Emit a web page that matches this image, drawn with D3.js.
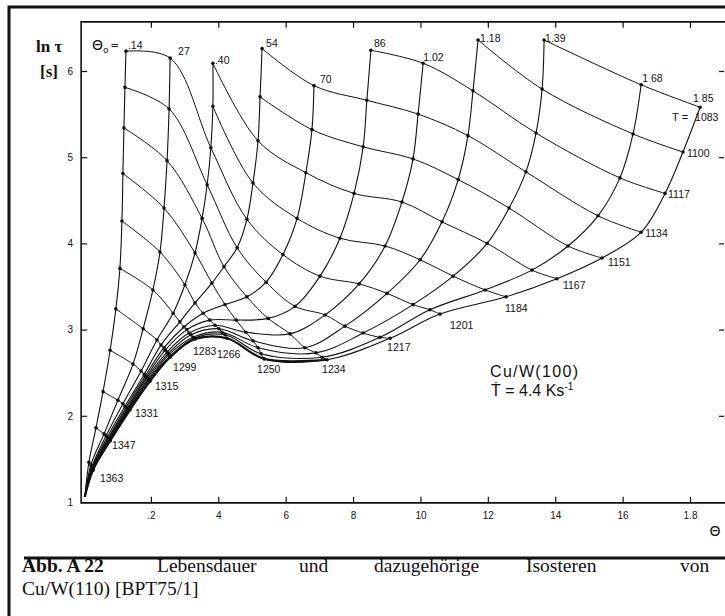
<!DOCTYPE html>
<html>
<head>
<meta charset="utf-8">
<script src="https://cdn.jsdelivr.net/npm/d3@7"></script>
<style>
  body { margin: 0; background: #fff; }
  svg { display: block; }
  text { fill: #111; }
</style>
</head>
<body>
<div id="chart"></div>
<script>
// initial coverages, label text as printed, and index of first isotherm on each curve
const theta0Labels = [".14", "27", ".40", "54", "70", "86", "1.02", "1.18", "1.39", "1 68", "1 85"];
const startIndex = [7, 7, 5, 3, 3, 2, 2, 1, 0, 0, 0];
const temps = [1083, 1100, 1117, 1134, 1151, 1167, 1184, 1201, 1217, 1234, 1250, 1266, 1283, 1299, 1315, 1331, 1347, 1363];

// [theta, ln tau] at each isotherm crossing, from the top of the curve down
const curve014 = [[0.126,6.23],[0.123,5.81],[0.120,5.34],[0.117,4.81],[0.114,4.26],[0.108,3.71],[0.096,3.24],[0.079,2.76],[0.058,2.28],[0.037,1.86],[0.016,1.46]];
const curve027 = [[0.257,6.15],[0.254,5.56],[0.248,4.96],[0.239,4.41],[0.227,3.90],[0.206,3.46],[0.177,3.01],[0.147,2.60],[0.102,2.18],[0.061,1.79],[0.022,1.43]];
const curve040 = [[0.384,6.09],[0.384,5.59],[0.378,5.11],[0.367,4.68],[0.352,4.29],[0.331,3.89],[0.301,3.52],[0.266,3.19],[0.218,2.88],[0.171,2.52],[0.117,2.14],[0.067,1.77],[0.025,1.41]];
const curve054 = [[0.530,6.26],[0.524,5.70],[0.518,5.19],[0.503,4.70],[0.485,4.28],[0.456,3.95],[0.417,3.73],[0.381,3.54],[0.331,3.31],[0.286,3.09],[0.230,2.82],[0.180,2.48],[0.123,2.11],[0.070,1.75],[0.025,1.39]];
const curve070 = [[0.684,5.83],[0.678,5.32],[0.660,4.82],[0.634,4.29],[0.592,3.87],[0.542,3.55],[0.485,3.38],[0.420,3.29],[0.355,3.19],[0.298,3.03],[0.239,2.79],[0.183,2.46],[0.126,2.10],[0.073,1.74],[0.025,1.39]];
const curve086 = [[0.853,6.24],[0.841,5.66],[0.830,5.12],[0.803,4.58],[0.761,4.06],[0.702,3.62],[0.628,3.27],[0.548,3.13],[0.453,3.11],[0.375,3.11],[0.307,3.00],[0.242,2.76],[0.186,2.45],[0.129,2.09],[0.073,1.73],[0.025,1.39]];
const curve102 = [[1.008,6.09],[0.993,5.50],[0.978,4.98],[0.945,4.48],[0.895,3.97],[0.818,3.53],[0.717,3.17],[0.613,2.95],[0.482,2.97],[0.390,3.05],[0.313,2.96],[0.248,2.74],[0.188,2.44],[0.132,2.09],[0.076,1.73],[0.025,1.38]];
const curve118 = [[1.171,6.36],[1.156,5.77],[1.141,5.25],[1.112,4.74],[1.064,4.25],[0.999,3.81],[0.901,3.42],[0.776,3.04],[0.657,2.79],[0.503,2.87],[0.402,3.01],[0.319,2.94],[0.251,2.72],[0.191,2.43],[0.132,2.08],[0.076,1.72],[0.028,1.38]];
const curve139 = [[1.367,6.36],[1.361,5.79],[1.343,5.28],[1.313,4.83],[1.263,4.41],[1.198,4.00],[1.097,3.62],[0.978,3.29],[0.830,2.96],[0.690,2.73],[0.518,2.79],[0.411,2.97],[0.325,2.91],[0.254,2.71],[0.194,2.42],[0.135,2.08],[0.079,1.72],[0.028,1.38]];
const curve168 = [[1.655,5.84],[1.631,5.27],[1.592,4.76],[1.527,4.32],[1.438,3.97],[1.331,3.69],[1.192,3.46],[1.028,3.23],[0.880,2.91],[0.708,2.68],[0.527,2.72],[0.420,2.94],[0.328,2.90],[0.257,2.69],[0.194,2.42],[0.135,2.07],[0.079,1.71],[0.028,1.37]];
const curve185 = [[1.830,5.58],[1.779,5.06],[1.726,4.58],[1.655,4.13],[1.539,3.83],[1.405,3.59],[1.254,3.38],[1.058,3.18],[0.910,2.90],[0.723,2.65],[0.536,2.66],[0.426,2.90],[0.331,2.89],[0.257,2.68],[0.197,2.40],[0.138,2.07],[0.079,1.71],[0.028,1.37]];
const meetPoint = [0.004, 1.06];

const yTicks = [1, 2, 3, 4, 5, 6];
const rightTicks = [2, 3, 4, 5, 6];
const xTicks = [0.2, 0.4, 0.6, 0.8, 1.0, 1.2, 1.4, 1.6, 1.8];
const xTickLabels = [".2", "4", "6", "8", "10", "12", "14", "16", "1.8"];

const curves = [curve014, curve027, curve040, curve054, curve070, curve086, curve102, curve118, curve139, curve168, curve185];

const width = 725, height = 616;

const svg = d3.select("#chart").append("svg")
    .attr("width", width)
    .attr("height", height);

const x = d3.scaleLinear().domain([0, 1.8]).range([83.5, 690]);
const y = d3.scaleLinear().domain([1, 6]).range([502, 71]);

// outer frame
svg.append("path")
    .attr("d", "M9,616 V7 H725 M24,558 H725")
    .attr("fill", "none").attr("stroke", "#111").attr("stroke-width", 3);

// axes
const axisLeftX = x(-0.007), axisTopY = y(6.57), axisBottomY = y(0.99);
svg.append("path")
    .attr("d", `M${width},${axisTopY} H${axisLeftX} V${axisBottomY} H${width}`)
    .attr("fill", "none").attr("stroke", "#111").attr("stroke-width", 1.6);

let gl = svg.append("g").attr("transform", `translate(${axisLeftX},0)`)
    .call(d3.axisLeft(y).tickValues(yTicks).tickSizeInner(-6).tickSizeOuter(0).tickPadding(8).tickFormat(d3.format("d")));
let gb = svg.append("g").attr("transform", `translate(0,${axisBottomY})`)
    .call(d3.axisBottom(x).tickValues(xTicks).tickSizeInner(-6).tickSizeOuter(0).tickPadding(9).tickFormat((d, i) => xTickLabels[i]));
let gt = svg.append("g").attr("transform", `translate(0,${axisTopY})`)
    .call(d3.axisTop(x).tickValues(xTicks).tickSizeInner(-6).tickSizeOuter(0).tickFormat(""));
let gr = svg.append("g").attr("transform", `translate(${width - 1},0)`)
    .call(d3.axisRight(y).tickValues(rightTicks).tickSizeInner(-5).tickSizeOuter(0).tickFormat(""));
[gl, gb, gt, gr].forEach(g => {
    g.select(".domain").remove();
    g.selectAll("line").attr("stroke", "#111").attr("stroke-width", 1.2);
    g.selectAll("text").attr("font-family", "Liberation Sans, Arial, sans-serif").attr("font-size", 10).attr("fill", "#111");
});

const line = d3.line()
    .x(d => x(d[0]))
    .y(d => y(d[1]))
    .curve(d3.curveCatmullRom.alpha(0.5));

// lifetime curves, one per initial coverage
svg.append("g").selectAll("path")
    .data(curves)
    .enter()
    .append("path")
    .attr("d", d => line(d.concat([meetPoint])))
    .attr("fill", "none")
    .attr("stroke", "#111")
    .attr("stroke-width", 1.1);

// heavier lower branch of the outermost curve
svg.append("path")
    .attr("d", line(curve185.slice(9).concat([meetPoint])))
    .attr("fill", "none")
    .attr("stroke", "#111")
    .attr("stroke-width", 2.2);

// isosteres / isotherms: same temperature index across the curves
const isotherms = temps.map((t, j) => curves
    .map((c, i) => j >= startIndex[i] ? c[j - startIndex[i]] : null)
    .filter(p => p !== null));

svg.append("g").selectAll("path")
    .data(isotherms)
    .enter()
    .append("path")
    .attr("d", d => line(d))
    .attr("fill", "none")
    .attr("stroke", "#111")
    .attr("stroke-width", 1);

// dots at the crossings
svg.append("g").selectAll("circle")
    .data(curves.flat())
    .enter()
    .append("circle")
    .attr("cx", d => x(d[0]))
    .attr("cy", d => y(d[1]))
    .attr("r", 1.8)
    .attr("fill", "#111");

const numFont = "Liberation Sans, Arial, sans-serif";

// initial coverage labels
const thetaLabelOffsets = [[2,-2],[8,-3],[2,1],[4,-2],[6,-3],[3,-3],[0,-2],[2,2],[1,2],[1,-3],[-7,-5]];
svg.append("g").selectAll("text")
    .data(curves)
    .enter()
    .append("text")
    .attr("x", (d, i) => x(d[0][0]) + thetaLabelOffsets[i][0])
    .attr("y", (d, i) => y(d[0][1]) + thetaLabelOffsets[i][1])
    .attr("font-family", numFont)
    .attr("font-size", 10.5)
    .text((d, i) => theta0Labels[i]);

const th = svg.append("text")
    .attr("x", x(curve014[0][0]) - 34)
    .attr("y", y(curve014[0][1]) - 1)
    .attr("font-family", "DejaVu Sans, sans-serif")
    .attr("font-size", 14);
th.append("tspan").text("Θ");
th.append("tspan").attr("font-size", 9).attr("dy", 3).text("o");
th.append("tspan").attr("font-size", 10).attr("dy", -4).attr("dx", 2).text("=");

// temperature labels along the outer curve
const tempLabelOffsets = [[-5,14],[4,5],[3,5],[4,5],[6,8],[6,10],[-1,15],[10,15],[-3,13],[-5,13],[-7,14],[-10,20],[-2,16],[3,14],[5,9],[5,7],[2,8],[7,12]];
svg.append("g").selectAll("text")
    .data(temps)
    .enter()
    .append("text")
    .attr("x", (d, j) => x(curve185[j][0]) + tempLabelOffsets[j][0])
    .attr("y", (d, j) => y(curve185[j][1]) + tempLabelOffsets[j][1])
    .attr("font-family", numFont)
    .attr("font-size", 10.5)
    .text(d => d);

svg.append("text")
    .attr("x", x(curve185[0][0]) - 12)
    .attr("y", y(curve185[0][1]) + 14)
    .attr("text-anchor", "end")
    .attr("font-family", numFont)
    .attr("font-size", 11)
    .text("T =");

// axis titles
const serif = "Liberation Serif, Times New Roman, serif";
svg.append("text").attr("x", 36).attr("y", 52).attr("font-family", serif)
    .attr("font-weight", "bold").attr("font-size", 17).text("ln τ");
svg.append("text").attr("x", 40).attr("y", 77).attr("font-family", serif)
    .attr("font-weight", "bold").attr("font-size", 17).text("[s]");
svg.append("text").attr("x", 715).attr("y", 536).attr("text-anchor", "middle")
    .attr("font-family", "DejaVu Sans, sans-serif").attr("font-size", 14).text("Θ");

// system annotation
svg.append("text").attr("x", 490).attr("y", 377).attr("font-family", numFont)
    .attr("font-size", 16).attr("textLength", 88).text("Cu/W(100)");
const rate = svg.append("text").attr("x", 491).attr("y", 396)
    .attr("font-family", numFont).attr("font-size", 16);
rate.append("tspan").text("Ṫ = 4.4 Ks");
rate.append("tspan").attr("font-size", 10).attr("dy", -6).text("-1");

// caption, words spread as in the justified original
const capWords = [
    {t: "Abb. A 22", x: 22, b: true},
    {t: "Lebensdauer", x: 157},
    {t: "und", x: 299},
    {t: "dazugehörige", x: 374},
    {t: "Isosteren", x: 526},
    {t: "von", x: 680}
];
svg.append("g").selectAll("text")
    .data(capWords)
    .enter()
    .append("text")
    .attr("x", d => d.x)
    .attr("y", 572)
    .attr("font-family", serif)
    .attr("font-size", 19.5)
    .attr("font-weight", d => d.b ? "bold" : "normal")
    .text(d => d.t);
svg.append("text").attr("x", 22).attr("y", 595).attr("font-family", serif)
    .attr("font-size", 19.5)
    .text("Cu/W(110) [BPT75/1]");
</script>
</body>
</html>
